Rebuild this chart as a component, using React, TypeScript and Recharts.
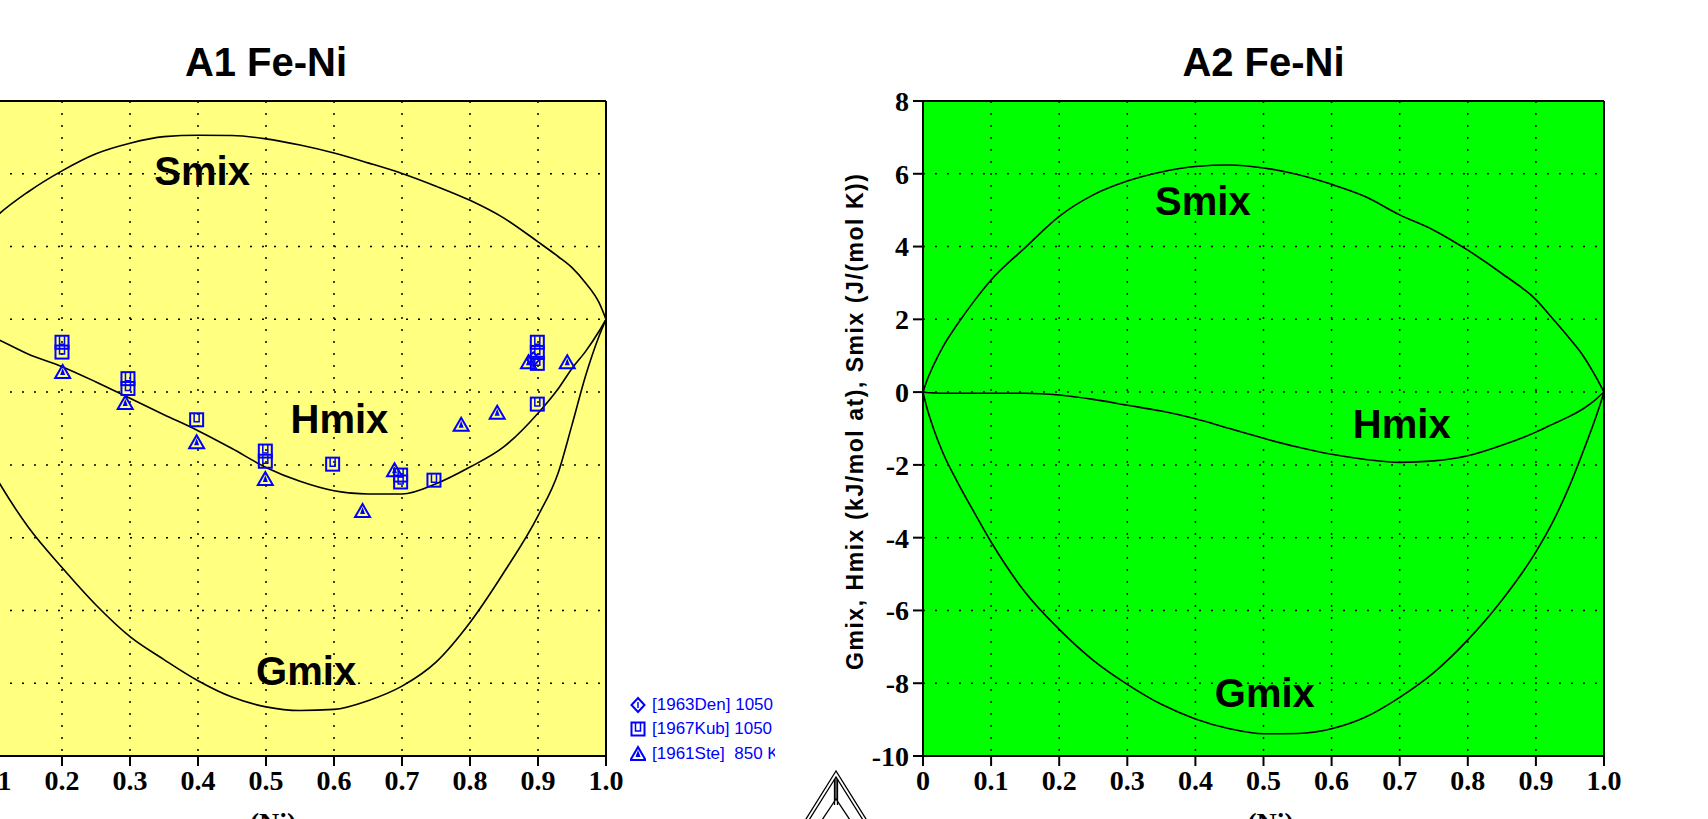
import React from 'react';
import { ComposedChart, Line, Scatter, XAxis, YAxis, CartesianGrid, ReferenceDot } from 'recharts';

// ---------- data ----------
const xTicks = [0, 0.1, 0.2, 0.3, 0.4, 0.5, 0.6, 0.7, 0.8, 0.9, 1.0];
const a1YTicks = [-12, -10, -8, -6, -4, -2, 0, 2, 4, 6];
const a2YTicks = [-10, -8, -6, -4, -2, 0, 2, 4, 6, 8];

const a1X = [0, 0.03, 0.06, 0.1, 0.15, 0.2, 0.25, 0.3, 0.35, 0.4, 0.45, 0.5, 0.55, 0.6, 0.65, 0.7, 0.75, 0.8, 0.85, 0.9, 0.93, 0.95, 0.97, 0.99, 1.0];
const a1Smix = [0, 1.15, 1.95, 2.77, 3.5, 4.08, 4.55, 4.84, 5.02, 5.06, 5.05, 4.96, 4.79, 4.57, 4.3, 4.01, 3.66, 3.27, 2.78, 2.13, 1.72, 1.42, 1.0, 0.45, 0];
const a1Hmix = [0, -0.06, -0.2, -0.5, -0.95, -1.3, -1.72, -2.17, -2.62, -3.06, -3.55, -4.07, -4.45, -4.71, -4.8, -4.8, -4.52, -4.06, -3.5, -2.58, -1.9, -1.35, -0.88, -0.32, 0];
const a1Gmix = [0, -1.6, -2.85, -4.25, -5.7, -6.82, -7.85, -8.72, -9.35, -9.93, -10.38, -10.65, -10.75, -10.72, -10.48, -10.08, -9.42, -8.33, -6.95, -5.4, -4.2, -2.9, -1.55, -0.45, 0];

const a2X = [0, 0.005, 0.015, 0.03, 0.05, 0.075, 0.1, 0.15, 0.2, 0.25, 0.3, 0.35, 0.4, 0.45, 0.5, 0.55, 0.6, 0.65, 0.7, 0.75, 0.8, 0.85, 0.9, 0.925, 0.95, 0.97, 0.985, 0.995, 1.0];
const a2Smix = [0, 0.28, 0.72, 1.27, 1.85, 2.5, 3.08, 3.97, 4.83, 5.42, 5.8, 6.05, 6.2, 6.24, 6.16, 5.98, 5.71, 5.37, 4.87, 4.45, 3.9, 3.26, 2.54, 2.01, 1.46, 0.98, 0.52, 0.18, 0];
const a2Hmix = [0, -0.01, -0.02, -0.03, -0.03, -0.03, -0.03, -0.03, -0.08, -0.2, -0.36, -0.52, -0.73, -1.0, -1.27, -1.51, -1.71, -1.85, -1.93, -1.89, -1.75, -1.46, -1.1, -0.88, -0.66, -0.45, -0.25, -0.08, 0];
const a2Gmix = [0, -0.38, -0.98, -1.7, -2.45, -3.3, -4.12, -5.5, -6.52, -7.37, -8.03, -8.58, -8.98, -9.25, -9.39, -9.38, -9.25, -8.93, -8.39, -7.71, -6.81, -5.72, -4.39, -3.56, -2.55, -1.6, -0.85, -0.3, 0];

const kubX = [0.2, 0.2, 0.297, 0.297, 0.398, 0.499, 0.499, 0.598, 0.698, 0.698, 0.747, 0.899, 0.899, 0.899, 0.899];
const kubY = [-0.63, -0.9, -1.63, -1.9, -2.76, -3.62, -3.9, -3.98, -4.28, -4.47, -4.42, -0.63, -0.91, -1.21, -2.33];
const steX = [0.201, 0.293, 0.398, 0.499, 0.642, 0.689, 0.787, 0.84, 0.886, 0.943];
const steY = [-1.45, -2.3, -3.38, -4.39, -5.27, -4.15, -2.9, -2.57, -1.18, -1.18];
const denX = [0.893];
const denY = [-1.1];

const legendLabels = ['[1963Den] 1050 K', '[1967Kub] 1050 K', '[1961Ste]  850 K'];
const titles = ['A1 Fe-Ni', 'A2 Fe-Ni'];
const xTitle = 'x(Ni)';
const yTitle = 'Gmix, Hmix (kJ/mol at), Smix (J/(mol K))';

// ---------- build ----------
const rows = (xs: number[], s: number[], h: number[], g: number[]) =>
  xs.map((x, i) => ({ x, smix: s[i], hmix: h[i], gmix: g[i] }));
const pts = (xs: number[], ys: number[]) => xs.map((x, i) => ({ x, y: ys[i] }));

const a1Data = rows(a1X, a1Smix, a1Hmix, a1Gmix);
const a2Data = rows(a2X, a2Smix, a2Hmix, a2Gmix);
const kubData = pts(kubX, kubY);
const steData = pts(steX, steY);
const denData = pts(denX, denY);

// ---------- styles ----------
const BLUE = '#0000ff';
const serif = '"Liberation Serif","Times New Roman",serif';
const sans = '"Liberation Sans",Arial,Helvetica,sans-serif';
const tickStyle = { fill: '#000', fontSize: 28, fontWeight: 700, fontFamily: serif };
const axisLine = { stroke: '#000', strokeWidth: 2 };
const tickLine = { stroke: '#000', strokeWidth: 2 };
const curveLabelStyle = { fill: '#000', fontSize: 40, fontWeight: 700, fontFamily: sans };

const fmtX = (v: number) => (v === 0 ? '0' : v.toFixed(1));

// ---------- markers ----------
const SquareMark = (p: any) => {
  const { cx, cy } = p;
  if (cx == null || cy == null) return null;
  return (
    <g>
      <rect x={cx - 6.5} y={cy - 6.5} width={13} height={13} fill="none" stroke={BLUE} strokeWidth={2} />
      <path d={`M${cx - 2.5},${cy - 6} V${cy + 2} H${cx + 2.5} V${cy - 6}`} fill="none" stroke={BLUE} strokeWidth={1.5} />
    </g>
  );
};
const TriangleMark = (p: any) => {
  const { cx, cy } = p;
  if (cx == null || cy == null) return null;
  return (
    <g>
      <path d={`M${cx},${cy - 7} L${cx + 7.5},${cy + 6} L${cx - 7.5},${cy + 6} Z`} fill="none" stroke={BLUE} strokeWidth={2} strokeLinejoin="miter" />
      <path d={`M${cx},${cy - 4} L${cx + 2.5},${cy + 3} L${cx - 2.5},${cy + 3} Z`} fill={BLUE} />
    </g>
  );
};
const DiamondMark = (p: any) => {
  const { cx, cy } = p;
  if (cx == null || cy == null) return null;
  return (
    <g>
      <path d={`M${cx},${cy - 7} L${cx + 6.5},${cy} L${cx},${cy + 7} L${cx - 6.5},${cy} Z`} fill="none" stroke={BLUE} strokeWidth={2} />
      <path d={`M${cx},${cy - 3} V${cy + 3}`} stroke={BLUE} strokeWidth={1.5} />
    </g>
  );
};

// ---------- labels ----------
const titleLabel = (text: string) => (props: any) => {
  const vb = props.viewBox || {};
  return (
    <text x={vb.x + vb.width / 2} y={vb.y - 5} textAnchor="middle" style={{ fontSize: 40, fontWeight: 700, fontFamily: sans }} fill="#000">
      {text}
    </text>
  );
};
const xTitleLabel = (props: any) => {
  const vb = props.viewBox || {};
  return (
    <text x={vb.x + vb.width / 2} y={vb.y + 76} textAnchor="middle" style={{ fontSize: 28, fontWeight: 700, fontFamily: serif }} fill="#000">
      {xTitle}
    </text>
  );
};
const yTitleLabel = (props: any) => {
  const vb = props.viewBox || {};
  const cx = vb.x + 55;
  const cy = 422;
  return (
    <text
      x={cx}
      y={cy}
      transform={`rotate(-90 ${cx} ${cy})`}
      textAnchor="middle"
      dominantBaseline="central"
      textLength={496}
      lengthAdjust="spacing"
      style={{ fontSize: 23, fontWeight: 700, fontFamily: sans }}
      fill="#000"
    >
      {yTitle}
    </text>
  );
};

const lineProps = { type: 'monotone' as const, dot: false, stroke: '#000', strokeWidth: 1.6, isAnimationActive: false };

// layout constants (page px)
const CH = 846;

function LeftChart() {
  return (
    <div style={{ position: 'absolute', left: -134, top: 0, width: 909, height: CH, overflow: 'hidden' }}>
      <ComposedChart width={909} height={CH} data={a1Data} margin={{ top: 81, right: 149, bottom: 0, left: 0 }}>
        <CartesianGrid fill="#ffff80" fillOpacity={1} stroke="#000" strokeWidth={1.5} strokeDasharray="2 10" />
        <XAxis dataKey="x" type="number" domain={[0, 1]} ticks={xTicks} interval={0} tickFormatter={fmtX}
          height={90} tickSize={10} tickMargin={4} axisLine={axisLine} tickLine={tickLine} tick={tickStyle} label={xTitleLabel} />
        <XAxis xAxisId="top" orientation="top" type="number" domain={[0, 1]} ticks={xTicks} interval={0}
          height={20} tickSize={10} axisLine={axisLine} tickLine={tickLine} tick={false} label={titleLabel(titles[0])} />
        <YAxis type="number" domain={[-12, 6]} ticks={a1YTicks} interval={0} width={60} tickSize={10} tickMargin={4}
          axisLine={axisLine} tickLine={tickLine} tick={tickStyle} />
        <YAxis yAxisId="right" orientation="right" type="number" domain={[-12, 6]} ticks={a1YTicks} interval={0}
          width={20} tickSize={10} axisLine={axisLine} tickLine={tickLine} tick={false} />
        <Line dataKey="smix" {...lineProps} />
        <Line dataKey="hmix" {...lineProps} />
        <Line dataKey="gmix" {...lineProps} />
        <Scatter data={kubData} dataKey="y" isAnimationActive={false} shape={SquareMark} />
        <Scatter data={steData} dataKey="y" isAnimationActive={false} shape={TriangleMark} />
        <Scatter data={denData} dataKey="y" isAnimationActive={false} shape={DiamondMark} />
        <ReferenceDot x={0.406} y={4.07} r={0} fill="none" stroke="none" label={{ value: 'Smix', position: 'center', ...curveLabelStyle }} />
        <ReferenceDot x={0.608} y={-2.74} r={0} fill="none" stroke="none" label={{ value: 'Hmix', position: 'center', ...curveLabelStyle }} />
        <ReferenceDot x={0.559} y={-9.66} r={0} fill="none" stroke="none" label={{ value: 'Gmix', position: 'center', ...curveLabelStyle }} />
      </ComposedChart>
      {/* legend */}
      {[DiamondMark, SquareMark, TriangleMark].map((M, i) => (
        <div key={i} style={{ position: 'absolute', left: 630 + 134, top: [705, 729, 754][i] - 11, height: 22, display: 'flex', alignItems: 'center', whiteSpace: 'pre' }}>
          <svg width={16} height={22} style={{ display: 'block' }}>
            <M cx={8} cy={11} />
          </svg>
          <span style={{ marginLeft: 6, color: BLUE, fontFamily: sans, fontSize: 17, lineHeight: '22px' }}>{legendLabels[i]}</span>
        </div>
      ))}
    </div>
  );
}

function RightChart() {
  return (
    <div style={{ position: 'absolute', left: 800, top: 0, width: 824, height: CH }}>
      <ComposedChart width={824} height={CH} data={a2Data} margin={{ top: 81, right: 0, bottom: 0, left: 0 }}>
        <CartesianGrid fill="#00ff00" fillOpacity={1} stroke="#000" strokeWidth={1.5} strokeDasharray="2 10" />
        <XAxis dataKey="x" type="number" domain={[0, 1]} ticks={xTicks} interval={0} tickFormatter={fmtX}
          height={90} tickSize={10} tickMargin={4} axisLine={axisLine} tickLine={tickLine} tick={tickStyle} label={xTitleLabel} />
        <XAxis xAxisId="top" orientation="top" type="number" domain={[0, 1]} ticks={xTicks} interval={0}
          height={20} tickSize={10} axisLine={axisLine} tickLine={tickLine} tick={false} label={titleLabel(titles[1])} />
        <YAxis type="number" domain={[-10, 8]} ticks={a2YTicks} interval={0} width={123} tickSize={10} tickMargin={4}
          axisLine={axisLine} tickLine={tickLine} tick={tickStyle} label={yTitleLabel} />
        <YAxis yAxisId="right" orientation="right" type="number" domain={[-10, 8]} ticks={a2YTicks} interval={0}
          width={20} tickSize={10} axisLine={axisLine} tickLine={tickLine} tick={false} />
        <Line dataKey="smix" {...lineProps} />
        <Line dataKey="hmix" {...lineProps} />
        <Line dataKey="gmix" {...lineProps} />
        <ReferenceDot x={0.411} y={5.25} r={0} fill="none" stroke="none" label={{ value: 'Smix', position: 'center', ...curveLabelStyle }} />
        <ReferenceDot x={0.703} y={-0.88} r={0} fill="none" stroke="none" label={{ value: 'Hmix', position: 'center', ...curveLabelStyle }} />
        <ReferenceDot x={0.502} y={-8.26} r={0} fill="none" stroke="none" label={{ value: 'Gmix', position: 'center', ...curveLabelStyle }} />
      </ComposedChart>
    </div>
  );
}

function Logo() {
  return (
    <svg width={80} height={60} style={{ position: 'absolute', left: 796, top: 765 }}>
      <g fill="none" stroke="#000" strokeWidth={1.3}>
        <path d="M40,6 L2.5,66 L77.5,66 Z" />
        <path d="M40,12 L8,63 L72,63 Z" />
        <path d="M40,34 L24,58 L56,58 Z" />
        <path d="M40,12 V34 M8,63 L24,58 M72,63 L56,58" />
        <path d="M38.5,14 V40 M41.5,14 V40" />
      </g>
    </svg>
  );
}

export default function App() {
  return (
    <div style={{ position: 'absolute', left: 0, top: 0, width: 1708, height: 819, overflow: 'hidden', background: '#fff' }}>
      <LeftChart />
      <RightChart />
      <Logo />
    </div>
  );
}
